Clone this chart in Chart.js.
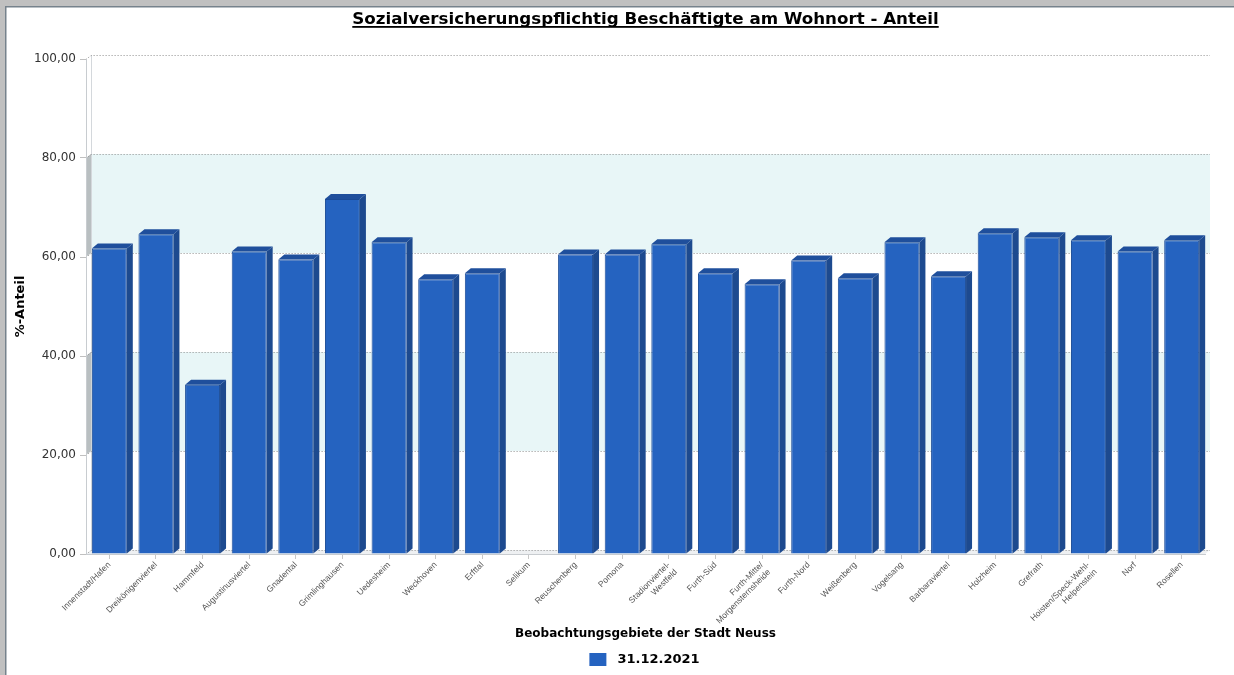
<!DOCTYPE html>
<html>
<head>
<meta charset="utf-8">
<title>Sozialversicherungspflichtig Beschäftigte am Wohnort - Anteil</title>
<script src="https://cdn.jsdelivr.net/npm/chart.js@4/dist/chart.umd.min.js"></script>
<style>
    html, body { margin: 0; padding: 0; background: #c0c0c0; }
    #wrap { position: absolute; left: 0; top: 0; width: 1234px; height: 675px; }
</style>
</head>
<body>
<div id="wrap"><canvas id="chart" width="1234" height="675"></canvas></div>
<script>
// ── Daten ─────────────────────────────────────────────────────────────
const titel      = "Sozialversicherungspflichtig Beschäftigte am Wohnort - Anteil";
const xTitel     = "Beobachtungsgebiete der Stadt Neuss";
const yTitel     = "%-Anteil";
const serieLabel = "31.12.2021";

const gebiete = [
    "Innenstadt/Hafen", "Dreikönigenviertel", "Hammfeld", "Augustinusviertel",
    "Gnadental", "Grimlinghausen", "Uedesheim", "Weckhoven", "Erfttal", "Selikum",
    "Reuschenberg", "Pomona", ["Stadionviertel-", "Westfeld"], "Furth-Süd",
    ["Furth-Mitte/", "Morgensternsheide"], "Furth-Nord", "Weißenberg", "Vogelsang",
    "Barbaraviertel", "Holzheim", "Grefrath", ["Hoisten/Speck-Wehl-", "Helpenstein"],
    "Norf", "Rosellen"
];

const anteile = [
    61.7, 64.6, 34.2, 61.1, 59.5, 71.7, 63.0, 55.5, 56.7, null,
    60.5, 60.5, 62.6, 56.7, 54.5, 59.3, 55.7, 63.0,
    56.1, 64.8, 64.0, 63.4, 61.1, 63.4
];

const yTicks = [0, 20, 40, 60, 80, 100];
const baender = [[20, 40], [60, 80]];

// ── Farben / 3D ───────────────────────────────────────────────────────
const FARBE_FRONT = "#2563c0";
const FARBE_SEITE = "#1d4a8f";
const FARBE_OBEN  = "#1f4f9c";
const FARBE_RAND  = "#1b4a96";
const BAR_DX = 6, BAR_DY = 5;
const WAND_DX = 5, WAND_DY = 4;

const hintergrund = {
    id: "hintergrund",
    beforeDraw(chart) {
        const { ctx, chartArea: a, scales: { y } } = chart;
        const W = chart.width, H = chart.height;
        ctx.save();
        // Rahmen
        ctx.fillStyle = "#c0c0c0";
        ctx.fillRect(0, 0, W, H);
        ctx.fillStyle = "#ffffff";
        ctx.fillRect(6, 7, W - 6, H - 7);
        ctx.fillStyle = "#76828c";
        ctx.fillRect(5, 6, W - 5, 1.5);
        ctx.fillRect(5, 6, 1.5, H - 6);

        const l = a.left, r = a.right;
        // Bänder an der Rückwand + linke Wand
        baender.forEach(([lo, hi]) => {
            const yLo = y.getPixelForValue(lo), yHi = y.getPixelForValue(hi);
            ctx.fillStyle = "#e8f6f7";
            ctx.fillRect(l + WAND_DX, yHi - WAND_DY, r - l, yLo - yHi);
            ctx.fillStyle = "#b9bfc1";
            ctx.beginPath();
            ctx.moveTo(l, yHi);
            ctx.lineTo(l + WAND_DX, yHi - WAND_DY);
            ctx.lineTo(l + WAND_DX, yLo - WAND_DY);
            ctx.lineTo(l, yLo);
            ctx.closePath();
            ctx.fill();
        });

        // Wand- und Bodenkanten
        const y0 = y.getPixelForValue(0), y100 = y.getPixelForValue(100);
        ctx.strokeStyle = "#d4d8dc";
        ctx.lineWidth = 1;
        ctx.beginPath();
        ctx.moveTo(l + WAND_DX + 0.5, y100 - WAND_DY);
        ctx.lineTo(l + WAND_DX + 0.5, y0 - WAND_DY);
        ctx.stroke();
        ctx.fillStyle = "#eef0f2";
        ctx.beginPath();
        ctx.moveTo(l, y0);
        ctx.lineTo(l + WAND_DX, y0 - WAND_DY);
        ctx.lineTo(r + WAND_DX, y0 - WAND_DY);
        ctx.lineTo(r, y0);
        ctx.closePath();
        ctx.fill();

        // Gitterlinien (gepunktet) an der Rückwand
        ctx.strokeStyle = "#8e8e8e";
        ctx.setLineDash([1, 2]);
        yTicks.forEach(v => {
            const py = Math.round(y.getPixelForValue(v) - WAND_DY) + 0.5;
            ctx.beginPath();
            ctx.moveTo(l, py + WAND_DY);
            ctx.lineTo(l + WAND_DX, py);
            ctx.lineTo(r + WAND_DX, py);
            ctx.stroke();
        });
        ctx.setLineDash([]);
        ctx.restore();
    }
};

const balken3d = {
    id: "balken3d",
    afterDatasetsDraw(chart) {
        const { ctx } = chart;
        const meta = chart.getDatasetMeta(0);
        ctx.save();
        meta.data.forEach((bar, i) => {
            if (anteile[i] === null) return;
            const { x, y, base, width } = bar.getProps(["x", "y", "base", "width"], true);
            const l = x - width / 2, r = x + width / 2;
            // Seite
            ctx.fillStyle = FARBE_SEITE;
            ctx.beginPath();
            ctx.moveTo(r, y);
            ctx.lineTo(r + BAR_DX, y - BAR_DY);
            ctx.lineTo(r + BAR_DX, base - BAR_DY);
            ctx.lineTo(r, base);
            ctx.closePath();
            ctx.fill();
            // Oben
            ctx.fillStyle = FARBE_OBEN;
            ctx.beginPath();
            ctx.moveTo(l, y);
            ctx.lineTo(l + BAR_DX, y - BAR_DY);
            ctx.lineTo(r + BAR_DX, y - BAR_DY);
            ctx.lineTo(r, y);
            ctx.closePath();
            ctx.fill();
        });
        ctx.restore();
    }
};

const beschriftung = {
    id: "beschriftung",
    afterDraw(chart) {
        const { ctx, chartArea: a } = chart;
        const cx = (a.left + a.right) / 2;
        ctx.save();
        // Titel mit Unterstreichung
        ctx.font = "bold 16.7px 'DejaVu Sans', Verdana, sans-serif";
        ctx.fillStyle = "#000";
        ctx.textAlign = "center";
        ctx.textBaseline = "alphabetic";
        ctx.fillText(titel, cx, 24);
        const tw = ctx.measureText(titel).width;
        ctx.fillRect(cx - tw / 2, 26, tw, 1.8);

        // Legende
        ctx.font = "bold 13px 'DejaVu Sans', Verdana, sans-serif";
        const lw = ctx.measureText(serieLabel).width;
        const gesamt = 17 + 11 + lw;
        const sx = cx - gesamt / 2 - 1;
        ctx.fillStyle = FARBE_FRONT;
        ctx.fillRect(sx, 653, 17, 13);
        ctx.fillStyle = "#000";
        ctx.textAlign = "left";
        ctx.textBaseline = "middle";
        ctx.fillText(serieLabel, sx + 28, 660);
        ctx.restore();
    }
};

new Chart(document.getElementById("chart"), {
    type: "bar",
    data: {
        labels: gebiete,
        datasets: [{
            label: serieLabel,
            data: anteile,
            backgroundColor: FARBE_FRONT,
            borderColor: FARBE_RAND,
            borderWidth: 1,
            categoryPercentage: 1,
            barPercentage: 0.75,
        }]
    },
    options: {
        responsive: false,
        animation: false,
        layout: { padding: { left: 8, top: 59, right: 29, bottom: 31 } },
        plugins: {
            legend: { display: false },
            title: { display: false },
            tooltip: { enabled: false },
        },
        scales: {
            x: {
                grid: { display: true, drawOnChartArea: false, offset: false, color: "#c8c8c8", tickLength: 5 },
                border: { display: true, color: "#c8ccd0" },
                ticks: {
                    autoSkip: false,
                    maxRotation: 45,
                    minRotation: 45,
                    padding: 1,
                    color: "#555",
                    font: { family: "'Liberation Sans', Arial, sans-serif", size: 8.5 },
                },
                title: {
                    display: true,
                    text: xTitel,
                    color: "#000",
                    padding: { top: 0, bottom: 3 },
                    font: { family: "'DejaVu Sans', Verdana, sans-serif", size: 12, weight: "bold" },
                },
                afterFit(scale) { scale.height = 90; },
            },
            y: {
                min: 0,
                max: 100,
                afterBuildTicks(scale) { scale.ticks = yTicks.map(v => ({ value: v })); },
                grid: { drawOnChartArea: false, color: "#c0c0c0", tickLength: 6 },
                border: { display: true, color: "#c8ccd0" },
                ticks: {
                    padding: 4,
                    color: "#333",
                    font: { family: "'DejaVu Sans', Verdana, sans-serif", size: 12 },
                    callback: v => v.toFixed(2).replace(".", ","),
                },
                title: {
                    display: true,
                    text: yTitel,
                    color: "#000",
                    padding: { top: 5, bottom: 0 },
                    font: { family: "'DejaVu Sans', Verdana, sans-serif", size: 13, weight: "bold" },
                },
                afterFit(scale) { scale.width = 78; },
            }
        }
    },
    plugins: [hintergrund, balken3d, beschriftung]
});
</script>
</body>
</html>
